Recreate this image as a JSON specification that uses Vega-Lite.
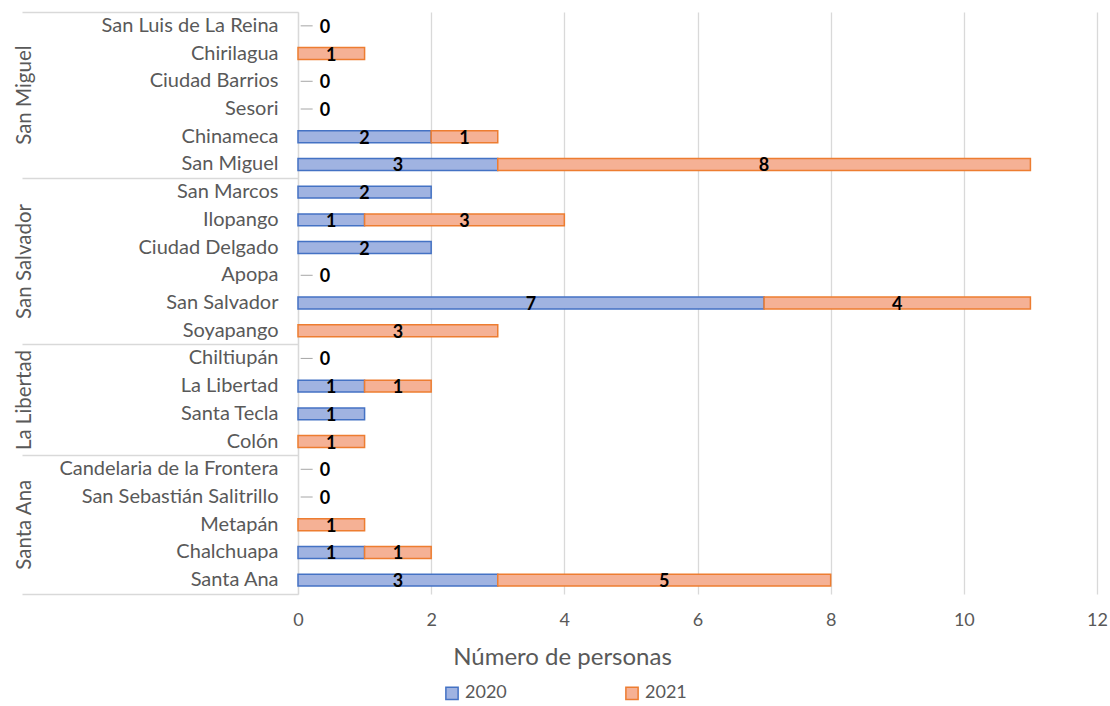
{
  "$schema": "https://vega.github.io/schema/vega-lite/v6.json",
  "width": 799,
  "height": 582,
  "autosize": "none",
  "padding": {"left": 298, "top": 12, "right": 13, "bottom": 112},
  "background": "white",
  "config": {
    "font": "Lato",
    "view": {"stroke": null},
    "axis": {"labelFont": "Lato", "titleFont": "Lato", "labelColor": "#595959", "titleColor": "#595959"},
    "legend": {"labelFont": "Lato", "labelColor": "#595959"}
  },
  "data": {
    "values": [
      {"dept": "San Miguel", "municipio": "San Luis de La Reina", "year": "2020", "count": 0},
      {"dept": "San Miguel", "municipio": "San Luis de La Reina", "year": "2021", "count": 0},
      {"dept": "San Miguel", "municipio": "Chirilagua", "year": "2020", "count": 0},
      {"dept": "San Miguel", "municipio": "Chirilagua", "year": "2021", "count": 1},
      {"dept": "San Miguel", "municipio": "Ciudad Barrios", "year": "2020", "count": 0},
      {"dept": "San Miguel", "municipio": "Ciudad Barrios", "year": "2021", "count": 0},
      {"dept": "San Miguel", "municipio": "Sesori", "year": "2020", "count": 0},
      {"dept": "San Miguel", "municipio": "Sesori", "year": "2021", "count": 0},
      {"dept": "San Miguel", "municipio": "Chinameca", "year": "2020", "count": 2},
      {"dept": "San Miguel", "municipio": "Chinameca", "year": "2021", "count": 1},
      {"dept": "San Miguel", "municipio": "San Miguel", "year": "2020", "count": 3},
      {"dept": "San Miguel", "municipio": "San Miguel", "year": "2021", "count": 8},
      {"dept": "San Salvador", "municipio": "San Marcos", "year": "2020", "count": 2},
      {"dept": "San Salvador", "municipio": "San Marcos", "year": "2021", "count": 0},
      {"dept": "San Salvador", "municipio": "Ilopango", "year": "2020", "count": 1},
      {"dept": "San Salvador", "municipio": "Ilopango", "year": "2021", "count": 3},
      {"dept": "San Salvador", "municipio": "Ciudad Delgado", "year": "2020", "count": 2},
      {"dept": "San Salvador", "municipio": "Ciudad Delgado", "year": "2021", "count": 0},
      {"dept": "San Salvador", "municipio": "Apopa", "year": "2020", "count": 0},
      {"dept": "San Salvador", "municipio": "Apopa", "year": "2021", "count": 0},
      {"dept": "San Salvador", "municipio": "San Salvador", "year": "2020", "count": 7},
      {"dept": "San Salvador", "municipio": "San Salvador", "year": "2021", "count": 4},
      {"dept": "San Salvador", "municipio": "Soyapango", "year": "2020", "count": 0},
      {"dept": "San Salvador", "municipio": "Soyapango", "year": "2021", "count": 3},
      {"dept": "La Libertad", "municipio": "Chiltiupán", "year": "2020", "count": 0},
      {"dept": "La Libertad", "municipio": "Chiltiupán", "year": "2021", "count": 0},
      {"dept": "La Libertad", "municipio": "La Libertad", "year": "2020", "count": 1},
      {"dept": "La Libertad", "municipio": "La Libertad", "year": "2021", "count": 1},
      {"dept": "La Libertad", "municipio": "Santa Tecla", "year": "2020", "count": 1},
      {"dept": "La Libertad", "municipio": "Santa Tecla", "year": "2021", "count": 0},
      {"dept": "La Libertad", "municipio": "Colón", "year": "2020", "count": 0},
      {"dept": "La Libertad", "municipio": "Colón", "year": "2021", "count": 1},
      {"dept": "Santa Ana", "municipio": "Candelaria de la Frontera", "year": "2020", "count": 0},
      {"dept": "Santa Ana", "municipio": "Candelaria de la Frontera", "year": "2021", "count": 0},
      {"dept": "Santa Ana", "municipio": "San Sebastián Salitrillo", "year": "2020", "count": 0},
      {"dept": "Santa Ana", "municipio": "San Sebastián Salitrillo", "year": "2021", "count": 0},
      {"dept": "Santa Ana", "municipio": "Metapán", "year": "2020", "count": 0},
      {"dept": "Santa Ana", "municipio": "Metapán", "year": "2021", "count": 1},
      {"dept": "Santa Ana", "municipio": "Chalchuapa", "year": "2020", "count": 1},
      {"dept": "Santa Ana", "municipio": "Chalchuapa", "year": "2021", "count": 1},
      {"dept": "Santa Ana", "municipio": "Santa Ana", "year": "2020", "count": 3},
      {"dept": "Santa Ana", "municipio": "Santa Ana", "year": "2021", "count": 5}
    ]
  },
  "transform": [
    {"joinaggregate": [{"op": "sum", "field": "count", "as": "total"}], "groupby": ["municipio"]}
  ],
  "layer": [
    {
      "mark": {"type": "bar", "height": {"band": 0.43}, "strokeWidth": 1.5},
      "transform": [{"filter": "datum.count > 0"}],
      "encoding": {
        "x": {
          "field": "count", "type": "quantitative", "stack": "zero",
          "scale": {"domain": [0, 12]},
          "title": "Número de personas",
          "axis": {"values": [0, 2, 4, 6, 8, 10, 12], "format": "d", "labelFlush": false, "domain": false, "ticks": false, "gridColor": "#D9D9D9", "gridWidth": 1.3, "labelFontSize": 18, "labelPadding": 17, "titleFontSize": 24, "titleFontWeight": "normal", "titleX": 264, "titleY": 63, "titleBaseline": "middle", "titleAlign": "center", "titleAnchor": null}
        },
        "y": {
          "field": "municipio", "type": "nominal",
          "sort": ["San Luis de La Reina", "Chirilagua", "Ciudad Barrios", "Sesori", "Chinameca", "San Miguel", "San Marcos", "Ilopango", "Ciudad Delgado", "Apopa", "San Salvador", "Soyapango", "Chiltiupán", "La Libertad", "Santa Tecla", "Colón", "Candelaria de la Frontera", "San Sebastián Salitrillo", "Metapán", "Chalchuapa", "Santa Ana"],
          "scale": {"paddingInner": 0, "paddingOuter": 0},
          "axis": {"orient": "left", "title": null, "ticks": false, "domainColor": "#D9D9D9", "domainWidth": 1.3, "labelFontSize": 20, "labelPadding": 20, "grid": false, "labelLimit": 400}
        },
        "color": {
          "field": "year", "type": "nominal",
          "scale": {"domain": ["2020", "2021"], "range": ["#A0B3E1", "#F5B195"]},
          "legend": {"title": null, "orient": "none", "legendX": 145, "legendY": 672, "direction": "horizontal", "symbolType": "square", "symbolSize": 150, "symbolStrokeWidth": 1.5, "labelFontSize": 18, "columnPadding": 115, "labelOffset": 4}
        },
        "stroke": {
          "field": "year", "type": "nominal",
          "scale": {"domain": ["2020", "2021"], "range": ["#4472C4", "#ED7D31"]},
          "legend": {"title": null, "orient": "none", "legendX": 145, "legendY": 672, "direction": "horizontal", "symbolType": "square", "symbolSize": 150, "symbolStrokeWidth": 1.5, "labelFontSize": 18, "columnPadding": 115, "labelOffset": 4}
        }
      }
    },
    {
      "mark": {"type": "text", "fontWeight": "bold", "fontSize": 18, "color": "black", "baseline": "middle", "dy": 2},
      "transform": [
        {"filter": "datum.count > 0"},
        {"stack": "count", "groupby": ["municipio"], "sort": [{"field": "year", "order": "ascending"}], "as": ["x0", "x1"]},
        {"calculate": "(datum.x0 + datum.x1) / 2", "as": "mid"}
      ],
      "encoding": {
        "x": {"field": "mid", "type": "quantitative", "title": "Número de personas"},
        "y": {
          "field": "municipio", "type": "nominal",
          "sort": ["San Luis de La Reina", "Chirilagua", "Ciudad Barrios", "Sesori", "Chinameca", "San Miguel", "San Marcos", "Ilopango", "Ciudad Delgado", "Apopa", "San Salvador", "Soyapango", "Chiltiupán", "La Libertad", "Santa Tecla", "Colón", "Candelaria de la Frontera", "San Sebastián Salitrillo", "Metapán", "Chalchuapa", "Santa Ana"],
          "axis": null
        },
        "text": {"field": "count", "type": "quantitative"}
      }
    },
    {
      "mark": {"type": "text", "fontWeight": "bold", "fontSize": 18, "color": "black", "baseline": "middle", "dx": 27, "dy": 2},
      "transform": [{"filter": "datum.total == 0 && datum.year == '2020'"}],
      "encoding": {
        "x": {"field": "count", "type": "quantitative", "title": "Número de personas"},
        "y": {
          "field": "municipio", "type": "nominal",
          "sort": ["San Luis de La Reina", "Chirilagua", "Ciudad Barrios", "Sesori", "Chinameca", "San Miguel", "San Marcos", "Ilopango", "Ciudad Delgado", "Apopa", "San Salvador", "Soyapango", "Chiltiupán", "La Libertad", "Santa Tecla", "Colón", "Candelaria de la Frontera", "San Sebastián Salitrillo", "Metapán", "Chalchuapa", "Santa Ana"],
          "axis": null
        },
        "text": {"field": "count", "type": "quantitative"}
      }
    },
    {
      "mark": {"type": "rule", "color": "#A6A6A6", "strokeWidth": 1},
      "transform": [{"filter": "datum.total == 0 && datum.year == '2020'"}],
      "encoding": {
        "x": {"datum": 0.04, "type": "quantitative", "title": "Número de personas"},
        "x2": {"datum": 0.22},
        "y": {
          "field": "municipio", "type": "nominal",
          "sort": ["San Luis de La Reina", "Chirilagua", "Ciudad Barrios", "Sesori", "Chinameca", "San Miguel", "San Marcos", "Ilopango", "Ciudad Delgado", "Apopa", "San Salvador", "Soyapango", "Chiltiupán", "La Libertad", "Santa Tecla", "Colón", "Candelaria de la Frontera", "San Sebastián Salitrillo", "Metapán", "Chalchuapa", "Santa Ana"],
          "axis": null
        }
      }
    },
    {
      "mark": {"type": "text", "text": ""},
      "encoding": {
        "y": {
          "field": "municipio", "type": "nominal",
          "sort": ["San Luis de La Reina", "Chirilagua", "Ciudad Barrios", "Sesori", "Chinameca", "San Miguel", "San Marcos", "Ilopango", "Ciudad Delgado", "Apopa", "San Salvador", "Soyapango", "Chiltiupán", "La Libertad", "Santa Tecla", "Colón", "Candelaria de la Frontera", "San Sebastián Salitrillo", "Metapán", "Chalchuapa", "Santa Ana"],
          "axis": {
            "orient": "left", "title": null, "domain": false, "ticks": false, "grid": false,
            "values": ["Ciudad Barrios", "Ciudad Delgado", "La Libertad", "Metapán"],
            "bandPosition": 1,
            "labelExpr": "datum.value == 'Ciudad Barrios' ? 'San Miguel' : datum.value == 'Ciudad Delgado' ? 'San Salvador' : datum.value == 'La Libertad' ? 'La Libertad' : 'Santa Ana'",
            "labelAngle": -90, "labelAlign": "center", "labelBaseline": "middle",
            "labelPadding": 274, "labelFontSize": 20.5,
            "labelOffset": {"condition": {"test": "datum.value == 'Metapán'", "value": 0}, "value": 13.86}
          }
        }
      }
    },
    {
      "mark": {"type": "text", "text": ""},
      "encoding": {
        "y": {
          "field": "municipio", "type": "nominal",
          "sort": ["San Luis de La Reina", "Chirilagua", "Ciudad Barrios", "Sesori", "Chinameca", "San Miguel", "San Marcos", "Ilopango", "Ciudad Delgado", "Apopa", "San Salvador", "Soyapango", "Chiltiupán", "La Libertad", "Santa Tecla", "Colón", "Candelaria de la Frontera", "San Sebastián Salitrillo", "Metapán", "Chalchuapa", "Santa Ana"],
          "axis": {
            "orient": "left", "title": null, "domain": false, "labels": false, "grid": false,
            "values": ["San Miguel", "Soyapango", "Colón", "Santa Ana"],
            "bandPosition": 1, "ticks": true, "tickSize": 276, "tickColor": "#D9D9D9", "tickWidth": 1.5
          }
        }
      }
    },
    {
      "mark": {"type": "text", "text": ""},
      "encoding": {
        "y": {
          "field": "municipio", "type": "nominal",
          "sort": ["San Luis de La Reina", "Chirilagua", "Ciudad Barrios", "Sesori", "Chinameca", "San Miguel", "San Marcos", "Ilopango", "Ciudad Delgado", "Apopa", "San Salvador", "Soyapango", "Chiltiupán", "La Libertad", "Santa Tecla", "Colón", "Candelaria de la Frontera", "San Sebastián Salitrillo", "Metapán", "Chalchuapa", "Santa Ana"],
          "axis": {
            "orient": "left", "title": null, "domain": false, "labels": false, "grid": false,
            "values": ["San Luis de La Reina"],
            "bandPosition": 0, "ticks": true, "tickSize": 276, "tickColor": "#D9D9D9", "tickWidth": 1.5
          }
        }
      }
    }
  ],
  "resolve": {"axis": {"y": "independent"}}
}
